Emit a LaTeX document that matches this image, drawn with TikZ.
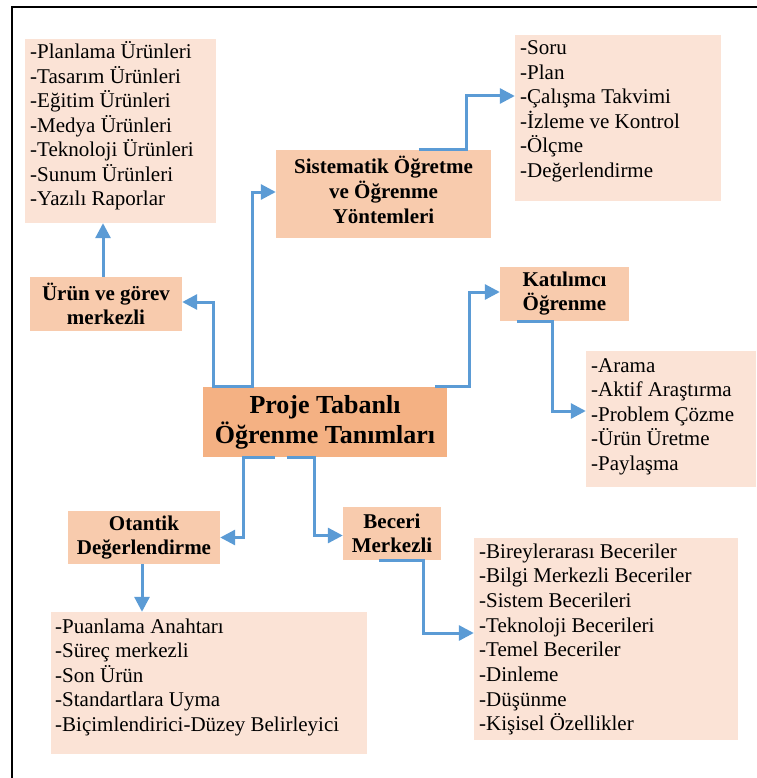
\documentclass[tikz,border=0pt]{standalone}
\usepackage{fontspec}
\setmainfont{Liberation Serif}
\usetikzlibrary{arrows.meta}
\definecolor{lightfill}{HTML}{FBE3D6}
\definecolor{labelfill}{HTML}{F8CBAD}
\definecolor{centerfill}{HTML}{F4B183}
\definecolor{connblue}{HTML}{5B9BD5}
\tikzset{
  lightbox/.style={rectangle, fill=lightfill, inner sep=0pt},
  labelbox/.style={rectangle, fill=labelfill, inner sep=0pt, align=center,
    font=\fontsize{21}{24}\selectfont\bfseries},
  centerbox/.style={rectangle, fill=centerfill, inner sep=0pt, align=center,
    font=\fontsize{26}{30}\selectfont\bfseries},
  item/.style={anchor=base west, inner sep=0pt, font=\fontsize{21}{24.5}\selectfont},
  conn/.style={draw=connblue, line width=3pt, line join=miter,
    -{Triangle[length=15pt,width=15pt]}},
  frame/.style={draw=black, line width=2pt}
}
\begin{document}
\begin{tikzpicture}[x=1pt,y=-1pt]
\useasboundingbox (0,0) rectangle (756,778);
\draw[frame] (11.5,790) -- (11.5,7.5) -- (770,7.5);

% boxes
\node[lightbox, minimum width=191pt, minimum height=184pt] (planl) at (120.5,131) {};
\node[labelbox, minimum width=215pt, minimum height=88pt] (sist) at (383.5,194) {};
\node[lightbox, minimum width=206pt, minimum height=166pt] (soru) at (618,118) {};
\node[labelbox, minimum width=152pt, minimum height=54pt] (urun) at (106,304) {Ürün ve görev\\merkezli};
\node[centerbox, minimum width=244pt, minimum height=70pt] (central) at (325,422) {Proje Tabanlı\\Öğrenme Tanımları};
\node[labelbox, minimum width=129pt, minimum height=54pt] (katil) at (564.5,294) {Katılımcı\\Öğrenme};
\node[lightbox, minimum width=170pt, minimum height=136pt] (arama) at (671,419) {};
\node[labelbox, minimum width=152pt, minimum height=53pt] (otantik) at (144,537.5) {Otantik\\Değerlendirme};
\node[labelbox, minimum width=98pt, minimum height=53pt] (beceri) at (392,533.5) {Beceri\\Merkezli};
\node[lightbox, minimum width=316pt, minimum height=142pt] (puan) at (209,683) {};
\node[lightbox, minimum width=264pt, minimum height=202pt] (birey) at (606,639) {};

\node[align=center, inner sep=0pt, font=\fontsize{21}{25}\selectfont\bfseries] (sisttext) at (383.5,190)
  {Sistematik Öğretme\\ve Öğrenme\\Yöntemleri};

% list items
\foreach \t [count=\i from 0] in {-Planlama Ürünleri,-Tasarım Ürünleri,-Eğitim Ürünleri,-Medya Ürünleri,-Teknoloji Ürünleri,-Sunum Ürünleri,-Yazılı Raporlar}
  \node[item] (planl-\i) at (30,59+24.4*\i) {\t};
\foreach \t [count=\i from 0] in {-Soru,-Plan,-Çalışma Takvimi,-İzleme ve Kontrol,-Ölçme,-Değerlendirme}
  \node[item] (soru-\i) at (520,55+24.4*\i) {\t};
\foreach \t [count=\i from 0] in {-Arama,-Aktif Araştırma,-Problem Çözme,-Ürün Üretme,-Paylaşma}
  \node[item] (arama-\i) at (591,372+24.5*\i) {\t};
\foreach \t [count=\i from 0] in {-Puanlama Anahtarı,-Süreç merkezli,-Son Ürün,-Standartlara Uyma,-Biçimlendirici-Düzey Belirleyici}
  \node[item] (puan-\i) at (55,633+24.5*\i) {\t};
\foreach \t [count=\i from 0] in {-Bireylerarası Beceriler,-Bilgi Merkezli Beceriler,-Sistem Becerileri,-Teknoloji Becerileri,-Temel Beceriler,-Dinleme,-Düşünme,-Kişisel Özellikler}
  \node[item] (birey-\i) at (479,558+24.7*\i) {\t};

% connectors
\draw[conn] ([xshift=26pt]central.north west) -- ++(24,0) |- ([yshift=2pt]sist.west);
\draw[conn] ([xshift=36pt]central.north west) -- ++(-25,0) |- ([yshift=2pt]urun.east);
\draw[conn] ([xshift=143pt]sist.north west) -- ++(48,0) |- ([yshift=22pt]soru.west);
\draw[conn] (urun.north -| 103,0) -- (planl.south -| 103,0);
\draw[conn] ([xshift=-12pt]central.north east) -- ++(34,0) |- ([yshift=2pt]katil.west);
\draw[conn] ([xshift=17pt]katil.south west) -- ++(36,0) |- ([yshift=8pt]arama.west);
\draw[conn] ([xshift=72pt]central.south west) -- ++(-31,0) |- (otantik.east);
\draw[conn] ([xshift=84pt]central.south west) -- ++(28,0) |- ([yshift=-2pt]beceri.west);
\draw[conn] (otantik.south -| 142,0) -- (puan.north -| 142,0);
\draw[conn] ([xshift=36pt]beceri.south west) -- ++(45,0) |- ([yshift=6pt]birey.west);
\end{tikzpicture}
\end{document}
